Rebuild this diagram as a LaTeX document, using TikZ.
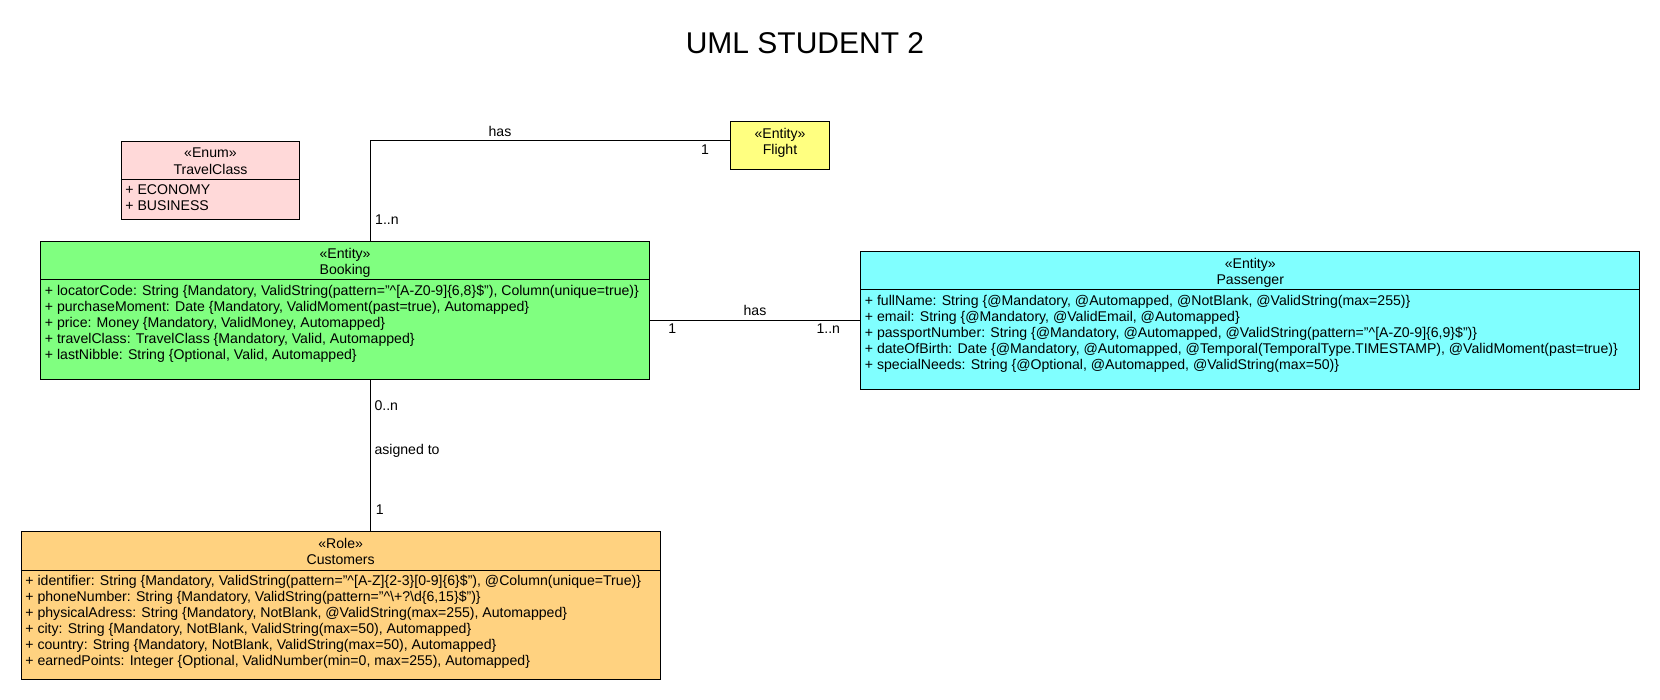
\documentclass[tikz,border=0pt]{standalone}
\usepackage{fontspec}
\setmainfont{Liberation Sans}
\definecolor{enumfill}{HTML}{FFD9D9}
\definecolor{bookfill}{HTML}{80FF80}
\definecolor{passfill}{HTML}{80FFFF}
\definecolor{custfill}{HTML}{FFD280}
\definecolor{flightfill}{HTML}{FFFF80}
\newcommand\bodyfont{\fontsize{14.1}{16}\selectfont}
\begin{document}
\begin{tikzpicture}[x=1pt,y=-1pt,
  box/.style={draw=black, line width=1pt, rectangle, anchor=north west, inner sep=0pt},
  txt/.style={inner sep=0pt, font=\bodyfont},
  head/.style={txt, anchor=base},
  attr/.style={txt, anchor=base west},
  lbl/.style={txt, anchor=base},
  lblw/.style={txt, anchor=base west},
  conn/.style={draw=black, line width=1pt}]
\useasboundingbox (0,0) rectangle (1660,700);

\node[font=\fontsize{30}{36}\selectfont, anchor=base, inner sep=0pt] (title) at (805,53.2) {UML STUDENT 2};

% TravelClass
\node[box, fill=enumfill, minimum width=178.6pt, minimum height=78.6pt] (travel) at (120.7,140.7) {};
\draw[conn] (travel.west |- 0,180) -- (travel.east |- 0,180);
\node[head] (travel-st) at (travel.center |- 0,158) {«Enum»};
\node[head] (travel-nm) at (travel.center |- 0,174.3) {TravelClass};
\foreach \t [count=\i from 0] in {{+ ECONOMY},{+ BUSINESS}}
  \node[attr] (travel-a\i) at (125.2,195+16*\i) {\t};

% Flight
\node[box, fill=flightfill, minimum width=99pt, minimum height=48.3pt] (flight) at (730,120.7) {};
\node[head] (flight-st) at (flight.center |- 0,138.3) {«Entity»};
\node[head] (flight-nm) at (flight.center |- 0,154.3) {Flight};

% Booking
\node[box, fill=bookfill, minimum width=608.8pt, minimum height=138.6pt] (booking) at (40.2,240.7) {};
\draw[conn] (booking.west |- 0,280) -- (booking.east |- 0,280);
\node[head] (booking-st) at (booking.center |- 0,259) {«Entity»};
\node[head] (booking-nm) at (booking.center |- 0,275) {Booking};
\foreach \t [count=\i from 0] in {
  {+ locatorCode: String \{Mandatory, ValidString(pattern="\textasciicircum[A-Z0-9]\{6,8\}\$"), Column(unique=true)\}},
  {+ purchaseMoment: Date \{Mandatory, ValidMoment(past=true), Automapped\}},
  {+ price: Money \{Mandatory, ValidMoney, Automapped\}},
  {+ travelClass: TravelClass \{Mandatory, Valid, Automapped\}},
  {+ lastNibble: String \{Optional, Valid, Automapped\}}}
  \node[attr] (booking-a\i) at (44.7,295.7+16*\i) {\t};

% Passenger
\node[box, fill=passfill, minimum width=779.1pt, minimum height=138.6pt] (passenger) at (860.2,250.7) {};
\draw[conn] (passenger.west |- 0,290) -- (passenger.east |- 0,290);
\node[head] (passenger-st) at (passenger.center |- 0,268.3) {«Entity»};
\node[head] (passenger-nm) at (passenger.center |- 0,284.3) {Passenger};
\foreach \t [count=\i from 0] in {
  {+ fullName: String \{@Mandatory, @Automapped, @NotBlank, @ValidString(max=255)\}},
  {+ email: String \{@Mandatory, @ValidEmail, @Automapped\}},
  {+ passportNumber: String \{@Mandatory, @Automapped, @ValidString(pattern="\textasciicircum[A-Z0-9]\{6,9\}\$")\}},
  {+ dateOfBirth: Date \{@Mandatory, @Automapped, @Temporal(TemporalType.TIMESTAMP), @ValidMoment(past=true)\}},
  {+ specialNeeds: String \{@Optional, @Automapped, @ValidString(max=50)\}}}
  \node[attr] (passenger-a\i) at (864.7,305.7+16*\i) {\t};

% Customers
\node[box, fill=custfill, minimum width=638.9pt, minimum height=148.6pt] (customers) at (20.7,530.7) {};
\draw[conn] (customers.west |- 0,570) -- (customers.east |- 0,570);
\node[head] (customers-st) at (customers.center |- 0,548.3) {«Role»};
\node[head] (customers-nm) at (customers.center |- 0,564.3) {Customers};
\foreach \t [count=\i from 0] in {
  {+ identifier: String \{Mandatory, ValidString(pattern="\textasciicircum[A-Z]\{2-3\}[0-9]\{6\}\$"), @Column(unique=True)\}},
  {+ phoneNumber: String \{Mandatory, ValidString(pattern="\textasciicircum\textbackslash+?\textbackslash d\{6,15\}\$")\}},
  {+ physicalAdress: String \{Mandatory, NotBlank, @ValidString(max=255), Automapped\}},
  {+ city: String \{Mandatory, NotBlank, ValidString(max=50), Automapped\}},
  {+ country: String \{Mandatory, NotBlank, ValidString(max=50), Automapped\}},
  {+ earnedPoints: Integer \{Optional, ValidNumber(min=0, max=255), Automapped\}}}
  \node[attr] (customers-a\i) at (25.2,585+16*\i) {\t};

% Connectors
\coordinate (bend) at (370.7,140.7);
\draw[conn] (booking.north -| bend) -- (bend) -- (flight.west |- bend);
\draw[conn] (booking.east |- passenger.west) -- (passenger.west);
\draw[conn] (booking.south -| bend) -- (customers.north -| bend);

% Labels
\node[lbl] (l-has1) at (500,136.3) {has};
\node[lbl] (l-fl1) at (705,154.3) {1};
\node[lblw] (l-bk1n) at (375,225) {1..n};
\node[lbl] (l-has2) at (755,316) {has};
\node[lbl] (l-bk1) at (672.3,334) {1};
\node[lbl] (l-ps1n) at (828.3,334) {1..n};
\node[lblw] (l-bk0n) at (374.3,410) {0..n};
\node[lblw] (l-asg) at (374.3,454.5) {asigned to};
\node[lblw] (l-cu1) at (375.7,514) {1};
\end{tikzpicture}
\end{document}
